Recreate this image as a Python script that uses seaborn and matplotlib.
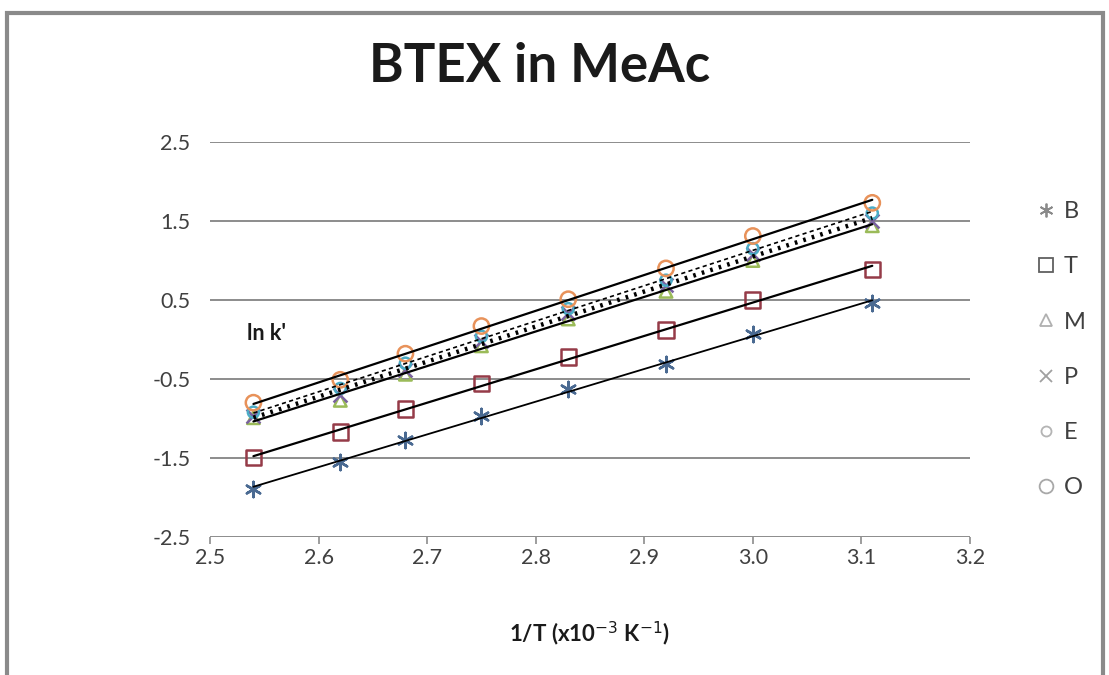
import matplotlib
matplotlib.use("Agg")
import matplotlib.pyplot as plt
from matplotlib.lines import Line2D
import seaborn as sns
import pandas as pd
import numpy as np

# ---- data ----
inv_T = [2.54, 2.62, 2.68, 2.75, 2.83, 2.92, 3.00, 3.11]
B = [-1.89, -1.55, -1.27, -0.97, -0.63, -0.31, 0.07, 0.46]
T = [-1.49, -1.17, -0.88, -0.56, -0.22, 0.12, 0.50, 0.89]
M = [-0.99, -0.77, -0.44, -0.08, 0.26, 0.61, 1.00, 1.44]
P = [-0.97, -0.70, -0.38, -0.02, 0.33, 0.69, 1.08, 1.50]
E = [-0.92, -0.62, -0.30, 0.04, 0.39, 0.75, 1.15, 1.60]
O = [-0.80, -0.51, -0.18, 0.17, 0.51, 0.90, 1.31, 1.73]
series_names = ["B", "T", "M", "P", "E", "O"]
series_vals = [B, T, M, P, E, O]
x_ticks = [2.5, 2.6, 2.7, 2.8, 2.9, 3.0, 3.1, 3.2]
y_ticks = [-2.5, -1.5, -0.5, 0.5, 1.5, 2.5]

colors = {"B": "#4a6a92", "T": "#953b48", "M": "#9bbb59", "P": "#7a62a0",
          "E": "#4bacc6", "O": "#e8925a"}
markers = {"B": (6, 2, 0), "T": "s", "M": "^", "P": "x", "E": "o", "O": "o"}
msizes = {"B": 11, "T": 11, "M": 9, "P": 10, "E": 8, "O": 11}
line_styles = {"B": dict(ls="-", lw=1.3), "T": dict(ls="-", lw=1.6),
               "M": dict(ls="-", lw=1.6), "P": dict(ls=(0, (0.6, 1.4)), lw=3.2),
               "E": dict(ls=(0, (2.5, 2)), lw=1.2), "O": dict(ls="-", lw=1.6)}
legend_colors = {"B": "#8a8a8a", "T": "#606060", "M": "#b0b0b0", "P": "#a0a0a0",
                 "E": "#b4b4b4", "O": "#a8a8a8"}

df = pd.DataFrame({"x": inv_T * len(series_names),
                   "y": sum(series_vals, []),
                   "s": sum([[n] * len(inv_T) for n in series_names], [])})

sns.set_style("white")
plt.rcParams["font.family"] = ["Lato", "DejaVu Sans"]

fig = plt.figure(figsize=(11.09, 6.75), dpi=100)
ax = fig.add_axes([210 / 1109, 1 - 537 / 675, 760 / 1109, 395 / 675])

for n in series_names:
    sub = df[df.s == n]
    mk = markers[n]
    hollow = n in ("T", "M", "E", "O")
    sns.scatterplot(data=sub, x="x", y="y", ax=ax, marker=mk,
                    s=msizes[n] ** 2,
                    facecolor="none" if hollow else colors[n],
                    edgecolor=colors[n], linewidth=1.8,
                    color=colors[n], zorder=3, legend=False)

for n in series_names:
    sub = df[df.s == n]
    sns.regplot(data=sub, x="x", y="y", ax=ax, scatter=False, ci=None,
                truncate=True, color="black",
                line_kws=dict(zorder=4, **line_styles[n]))

ax.set_xlim(2.5, 3.2)
ax.set_ylim(-2.5, 2.5)
ax.set_xticks(x_ticks)
ax.set_xticklabels([f"{v:.1f}" for v in x_ticks])
ax.set_yticks(y_ticks)
ax.set_yticklabels([f"{v:.1f}" for v in y_ticks])
for yv in y_ticks:
    ax.axhline(yv, color="#8c8c8c", lw=1.4, zorder=1)
for sp in ax.spines.values():
    sp.set_visible(False)
ax.tick_params(axis="x", length=5, width=1.2, color="#8c8c8c", labelsize=15.5,
               labelcolor="#404040", pad=3, direction="out", bottom=True)
ax.tick_params(axis="y", length=0, labelsize=15.5, labelcolor="#404040", pad=14)
ax.set_xlabel("")
ax.set_ylabel("")

fig.text(540 / 1109, 1 - 66 / 675, "BTEX in MeAc", ha="center", va="center",
         fontsize=38, fontweight="bold", color="#1a1a1a")
fig.text(247 / 1109, 1 - 333 / 675, "ln k'", ha="left", va="center",
         fontsize=15.5, fontweight="bold", color="#1a1a1a")
fig.text(590 / 1109, 1 - 634 / 675, r"1/T (x10$^{-3}$ K$^{-1}$)", ha="center",
         va="center", fontsize=16, fontweight="bold", color="#1a1a1a")

handles = []
for n in series_names:
    hollow = n in ("T", "M", "E", "O")
    handles.append(Line2D([], [], ls="none", marker=markers[n],
                          markersize=msizes[n] * 0.9,
                          markerfacecolor="none" if hollow else legend_colors[n],
                          markeredgecolor=legend_colors[n], markeredgewidth=1.3))
leg = fig.legend(handles, series_names, loc="upper left",
                 bbox_to_anchor=(1008 / 1109, 1 - 180 / 675), frameon=False,
                 fontsize=17, labelspacing=1.45, handletextpad=0.05,
                 handlelength=1.4)
for t in leg.get_texts():
    t.set_color("#404040")

# outer frame
fig.patches.append(plt.Rectangle((7 / 1109, -0.05), 1096 / 1109, 1.05 - 13 / 675,
                                 transform=fig.transFigure, fill=False,
                                 edgecolor="#8a8a8a", lw=3))

fig.savefig("out.png", dpi=100)
